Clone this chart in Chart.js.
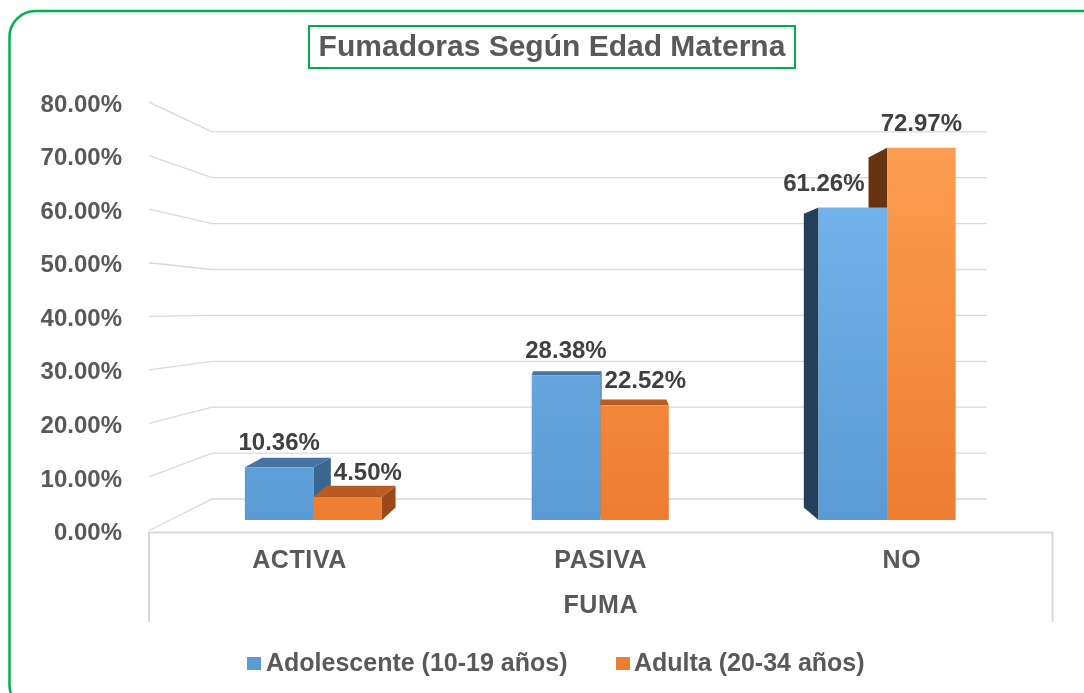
<!DOCTYPE html>
<html>
<head>
<meta charset="utf-8">
<script src="https://cdn.jsdelivr.net/npm/chart.js@4.4.0/dist/chart.umd.min.js"></script>
<style>
  html, body { margin: 0; padding: 0; background: #fff; }
  canvas { display: block; }
</style>
</head>
<body>
<canvas id="fumaChart" width="1084" height="693"></canvas>
<script>
// data
const chartTitle = 'Fumadoras Según Edad Materna';
const axisTitle = 'FUMA';
const categories = ['ACTIVA', 'PASIVA', 'NO'];
const seriesNames = ['Adolescente (10-19 años)', 'Adulta (20-34 años)'];
const adolescente = [10.36, 28.38, 61.26];
const adulta = [4.50, 22.52, 72.97];
const yTicks = [0, 10, 20, 30, 40, 50, 60, 70, 80];

const FONT = "'Liberation Sans', Arial, sans-serif";
const GREEN = '#00B050';
const TEXT = '#595959';

// fake 3d: vanishing point and depth factors
const VX = 590, VY = 310;
const DEPTH = 0.056;   // bar depth
const FRONT = 0.05;    // front edge of floor
const BACK = 0.1;      // back wall

const faces = [
    { top: '#4374A3', right: '#3A6690', left: '#243F59' },
    { top: '#B85C22', right: '#9B4A17', left: '#653311' }
];

function grad(light, base) {
    return function(ctx) {
        const area = ctx.chart.chartArea;
        if (!area) return base;
        const g = ctx.chart.ctx.createLinearGradient(0, area.top, 0, area.bottom);
        g.addColorStop(0, light);
        g.addColorStop(1, base);
        return g;
    };
}

const frontPt = (x, y) => [x + FRONT * (x - VX), y + FRONT * (y - VY)];
const backPt = (x, y) => [x + BACK * (VX - x), y + BACK * (VY - y)];

const decor = {
    id: 'decor',
    beforeDraw(chart) {
        const c = chart.ctx;
        c.save();
        c.fillStyle = '#fff';
        c.fillRect(0, 0, chart.width, chart.height);
        // outer rounded frame
        c.strokeStyle = GREEN;
        c.lineWidth = 2.5;
        c.beginPath();
        c.roundRect(9.5, 11, 1100, 700, 26);
        c.stroke();
        // title box
        c.lineWidth = 2;
        c.strokeRect(309, 26, 486, 42);
        c.fillStyle = TEXT;
        c.font = 'bold 30px ' + FONT;
        c.textAlign = 'center';
        c.textBaseline = 'middle';
        c.fillText(chartTitle, 552, 48);
        c.restore();
    },
    beforeDatasetsDraw(chart) {
        const c = chart.ctx, ys = chart.scales.y, xs = chart.scales.x;
        const a = chart.chartArea;
        c.save();
        // walls / grid
        c.strokeStyle = '#D9D9D9';
        c.lineWidth = 1.3;
        c.fillStyle = TEXT;
        c.font = 'bold 24px ' + FONT;
        c.textAlign = 'right';
        c.textBaseline = 'middle';
        yTicks.forEach(v => {
            const py = ys.getPixelForValue(v);
            const f = frontPt(a.left, py), b = backPt(a.left, py), br = backPt(a.right, py);
            c.beginPath();
            c.moveTo(f[0], f[1]);
            c.lineTo(b[0], b[1]);
            c.lineTo(br[0], b[1]);
            c.stroke();
            c.fillText(v.toFixed(2) + '%', 122, f[1] + 3);
        });
        // floor front edge
        const fl = frontPt(a.left, a.bottom), fr = frontPt(a.right, a.bottom);
        c.lineWidth = 2;
        c.beginPath();
        c.moveTo(fl[0], 622);
        c.lineTo(fl[0], fl[1] + 2);
        c.lineTo(fr[0], fl[1] + 2);
        c.lineTo(fr[0], 622);
        c.stroke();
        // category labels on the front edge
        c.textAlign = 'center';
        c.font = 'bold 25px ' + FONT;
        c.letterSpacing = '0.6px';
        categories.forEach((cat, i) => {
            const px = frontPt(xs.getPixelForValue(i), a.bottom)[0];
            c.fillText(cat, px, 561);
        });
        c.fillText(axisTitle, (fl[0] + fr[0]) / 2, 606);
        c.letterSpacing = '0px';

        // bar sides and tops
        chart.data.datasets.forEach((ds, i) => {
            chart.getDatasetMeta(i).data.forEach(el => {
                const l = el.x - el.width / 2, r = el.x + el.width / 2, t = el.y, b = el.base;
                const sx = DEPTH * (VX - el.x);
                const bk = (px, py) => [px + sx, py + DEPTH * 1.07 * (VY - py)];
                const poly = (pts, col) => {
                    c.fillStyle = col;
                    c.beginPath();
                    c.moveTo(pts[0][0], pts[0][1]);
                    pts.slice(1).forEach(p => c.lineTo(p[0], p[1]));
                    c.closePath();
                    c.fill();
                };
                if (sx > 0.5) poly([[r, t], [r, b], bk(r, b), bk(r, t)], faces[i].right);
                else if (sx < -0.5) poly([[l, t], [l, b], bk(l, b), bk(l, t)], faces[i].left);
                if (t > VY) poly([[l, t], [r, t], bk(r, t), bk(l, t)], faces[i].top);
            });
        });
        c.restore();
    },
    afterDatasetsDraw(chart) {
        const c = chart.ctx;
        const m0 = chart.getDatasetMeta(0).data, m1 = chart.getDatasetMeta(1).data;
        c.save();
        c.font = 'bold 24px ' + FONT;
        c.fillStyle = '#404040';
        c.textAlign = 'center';
        c.textBaseline = 'middle';
        chart.data.datasets.forEach((ds, i) => {
            chart.getDatasetMeta(i).data.forEach((el, j) => {
                const txt = ds.data[j].toFixed(2) + '%';
                const w = c.measureText(txt).width;
                let cx = el.x, cy = el.y - 23.5;
                if (i === 1) {
                    // keep clear of the neighbour bar on the left
                    const nb = m0[j];
                    const ext = nb.x + nb.width / 2 + Math.max(0, DEPTH * (VX - nb.x));
                    const nTop = Math.min(nb.y, nb.y + DEPTH * (VY - nb.y));
                    if (cy + 11 > nTop && cx - w / 2 < ext) cx = ext + 3 + w / 2;
                } else {
                    const nb = m1[j];
                    const ext = nb.x - nb.width / 2 + Math.min(0, DEPTH * (VX - nb.x));
                    const nTop = Math.min(nb.y, nb.y + DEPTH * (VY - nb.y));
                    if (cy + 11 > nTop && cx + w / 2 > ext) cx = ext - 4 - w / 2;
                }
                c.fillText(txt, cx, cy);
            });
        });
        // legend
        c.font = 'bold 25px ' + FONT;
        c.textAlign = 'left';
        c.fillStyle = '#5B9BD5';
        c.fillRect(247, 657, 14, 13);
        c.fillStyle = '#ED7D31';
        c.fillRect(616, 657, 14, 13);
        c.fillStyle = TEXT;
        c.fillText(chart.data.datasets[0].label, 266, 664);
        c.fillText(chart.data.datasets[1].label, 634, 664);
        c.restore();
    }
};

new Chart(document.getElementById('fumaChart').getContext('2d'), {
    type: 'bar',
    data: {
        labels: categories,
        datasets: [{
            label: seriesNames[0],
            data: adolescente,
            backgroundColor: grad('#78B7F0', '#5B9BD5'),
            borderWidth: 0
        }, {
            label: seriesNames[1],
            data: adulta,
            backgroundColor: grad('#FFA052', '#ED7D31'),
            borderWidth: 0
        }]
    },
    options: {
        responsive: false,
        animation: false,
        layout: { padding: { left: 170, right: 53.5, top: 112, bottom: 173 } },
        datasets: { bar: { categoryPercentage: 0.478, barPercentage: 1 } },
        scales: {
            x: { display: false },
            y: { display: false, min: 0, max: 80 }
        },
        plugins: {
            legend: { display: false },
            title: { display: false },
            tooltip: { enabled: false }
        }
    },
    plugins: [decor]
});
</script>
</body>
</html>
